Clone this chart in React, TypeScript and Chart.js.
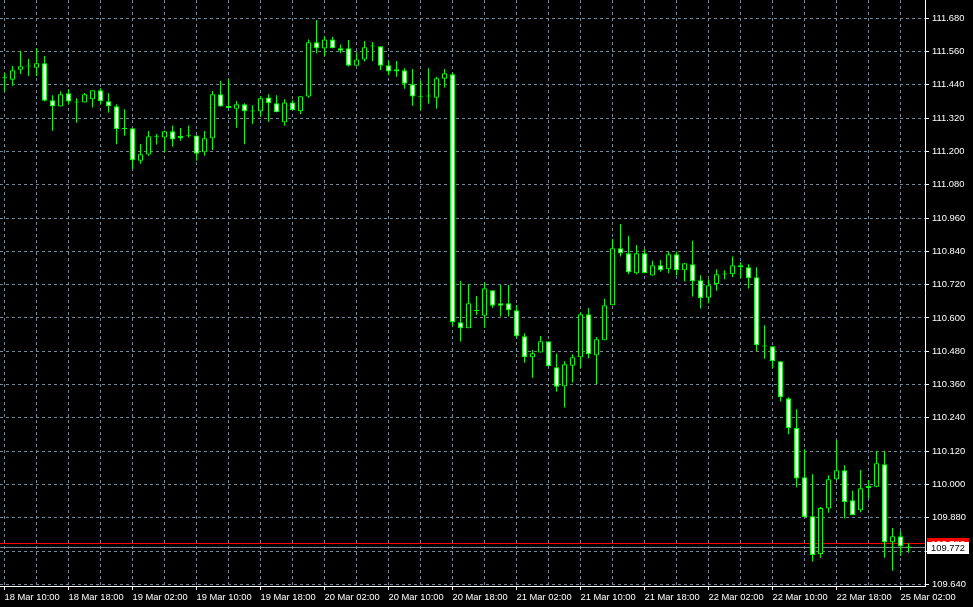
import React, { useEffect, useRef } from 'react';
import { Chart, registerables } from 'chart.js';

Chart.register(...registerables);

// Hourly candles, 18 Mar 10:00 ... 25 Mar 03:00 (weekend gap after 22 Mar 23:00)
const TIME_LABELS = [
  '18 Mar 10:00', '18 Mar 18:00', '19 Mar 02:00', '19 Mar 10:00', '19 Mar 18:00',
  '20 Mar 02:00', '20 Mar 10:00', '20 Mar 18:00', '21 Mar 02:00', '21 Mar 10:00',
  '21 Mar 18:00', '22 Mar 02:00', '22 Mar 10:00', '22 Mar 18:00', '25 Mar 02:00',
];

const OPEN = [
  111.464, 111.459, 111.495, 111.507, 111.502, 111.518, 111.385, 111.362, 111.410, 111.377,
  111.377, 111.388, 111.421, 111.381, 111.363, 111.281, 111.284, 111.167, 111.189, 111.253,
  111.250, 111.273, 111.256, 111.256, 111.258, 111.197, 111.248, 111.406, 111.365, 111.354,
  111.370, 111.345, 111.345, 111.395, 111.374, 111.305, 111.377, 111.345, 111.398, 111.594,
  111.571, 111.604, 111.572, 111.572, 111.509, 111.532, 111.578, 111.579, 111.511, 111.496,
  111.493, 111.442, 111.398, 111.398, 111.394, 111.462, 111.478, 110.585, 110.563, 110.625,
  110.608, 110.700, 110.653, 110.653, 110.628, 110.534, 110.458, 110.476, 110.516, 110.422,
  110.354, 110.428, 110.458, 110.613, 110.466, 110.520, 110.646, 110.851, 110.833, 110.761,
  110.833, 110.753, 110.790, 110.776, 110.830, 110.772, 110.794, 110.736, 110.673, 110.722,
  110.758, 110.758, 110.790, 110.783, 110.747, 110.498, 110.498, 110.444, 110.311, 110.203,
  110.026, 109.885, 109.749, 109.913, 110.019, 110.051, 109.943, 109.907, 109.994, 109.992,
  110.073, 109.792, 109.813, 109.776,
];
const HIGH = [
  111.484, 111.508, 111.562, 111.533, 111.572, 111.544, 111.403, 111.417, 111.424, 111.392,
  111.411, 111.421, 111.428, 111.410, 111.370, 111.352, 111.284, 111.227, 111.274, 111.263,
  111.276, 111.294, 111.285, 111.294, 111.258, 111.274, 111.418, 111.454, 111.461, 111.382,
  111.374, 111.367, 111.400, 111.406, 111.403, 111.388, 111.385, 111.399, 111.604, 111.674,
  111.615, 111.613, 111.586, 111.602, 111.558, 111.598, 111.595, 111.579, 111.527, 111.526,
  111.500, 111.497, 111.454, 111.500, 111.469, 111.497, 111.484, 110.733, 110.722, 110.679,
  110.730, 110.700, 110.719, 110.719, 110.647, 110.545, 110.485, 110.535, 110.516, 110.471,
  110.444, 110.469, 110.621, 110.636, 110.531, 110.669, 110.885, 110.939, 110.896, 110.863,
  110.848, 110.806, 110.809, 110.840, 110.840, 110.797, 110.878, 110.754, 110.740, 110.776,
  110.772, 110.822, 110.801, 110.794, 110.783, 110.574, 110.498, 110.444, 110.314, 110.271,
  110.127, 110.037, 109.919, 110.033, 110.159, 110.069, 109.977, 110.052, 110.016, 110.121,
  110.121, 109.843, 109.831, 109.788,
];
const LOW = [
  111.416, 111.437, 111.479, 111.472, 111.472, 111.380, 111.275, 111.362, 111.369, 111.304,
  111.377, 111.359, 111.371, 111.340, 111.226, 111.257, 111.137, 111.156, 111.185, 111.225,
  111.197, 111.217, 111.239, 111.250, 111.167, 111.185, 111.205, 111.362, 111.356, 111.286,
  111.226, 111.300, 111.327, 111.307, 111.341, 111.293, 111.349, 111.335, 111.394, 111.554,
  111.543, 111.572, 111.554, 111.506, 111.509, 111.524, 111.526, 111.494, 111.475, 111.469,
  111.426, 111.365, 111.349, 111.372, 111.354, 111.431, 110.571, 110.515, 110.563, 110.611,
  110.565, 110.637, 110.605, 110.605, 110.527, 110.439, 110.385, 110.476, 110.426, 110.334,
  110.277, 110.367, 110.419, 110.455, 110.361, 110.520, 110.646, 110.822, 110.758, 110.758,
  110.761, 110.753, 110.767, 110.761, 110.753, 110.731, 110.677, 110.634, 110.653, 110.698,
  110.740, 110.747, 110.743, 110.706, 110.480, 110.453, 110.419, 110.299, 110.181, 109.990,
  109.882, 109.722, 109.736, 109.898, 110.014, 109.877, 109.889, 109.900, 109.950, 109.990,
  109.736, 109.689, 109.743, 109.754,
];
const CLOSE = [
  111.465, 111.493, 111.507, 111.506, 111.518, 111.383, 111.363, 111.406, 111.380, 111.378,
  111.406, 111.421, 111.381, 111.363, 111.280, 111.281, 111.168, 111.190, 111.255, 111.253,
  111.273, 111.243, 111.248, 111.255, 111.192, 111.248, 111.406, 111.362, 111.356, 111.370,
  111.345, 111.344, 111.392, 111.374, 111.341, 111.377, 111.349, 111.399, 111.594, 111.572,
  111.604, 111.572, 111.563, 111.509, 111.532, 111.576, 111.578, 111.509, 111.488, 111.488,
  111.444, 111.398, 111.397, 111.398, 111.464, 111.482, 110.585, 110.563, 110.653, 110.625,
  110.707, 110.644, 110.644, 110.628, 110.534, 110.458, 110.473, 110.516, 110.426, 110.352,
  110.433, 110.458, 110.613, 110.469, 110.523, 110.646, 110.851, 110.833, 110.765, 110.833,
  110.761, 110.790, 110.772, 110.830, 110.772, 110.797, 110.732, 110.671, 110.718, 110.758,
  110.757, 110.790, 110.783, 110.743, 110.502, 110.497, 110.444, 110.314, 110.203, 110.021,
  109.882, 109.746, 109.915, 110.019, 110.051, 109.937, 109.889, 109.986, 109.986, 110.076,
  109.792, 109.813, 109.776, 109.772,
];

const PRICE_TICKS = [
  109.64, 109.76, 109.88, 110.0, 110.12, 110.24, 110.36, 110.48, 110.6,
  110.72, 110.84, 110.96, 111.08, 111.2, 111.32, 111.44, 111.56, 111.68,
];
const BID = 109.772;
const ASK = 109.786;

const CANDLE = '#00ff00';
const BULL_BODY = '#000000';
const BEAR_BODY = '#ffffff';
const GRID = '#778899';
const AXIS = '#ffffff';
const FONT_FAMILY = '"Liberation Sans", Arial, sans-serif';
const FONT_SIZE = 9.4;

const priceLines = {
  id: 'priceLines',
  beforeDatasetsDraw(chart: any) {
    const { ctx, chartArea, scales } = chart;
    const y = scales.y;
    const line = (v: number, color: string) => {
      const py = Math.round(y.getPixelForValue(v) - 0.5) + 0.5;
      ctx.save();
      ctx.strokeStyle = color;
      ctx.lineWidth = 1;
      ctx.beginPath();
      ctx.moveTo(chartArea.left, py);
      ctx.lineTo(chartArea.right, py);
      ctx.stroke();
      ctx.restore();
    };
    line(ASK, '#ff0000');
    line(BID, GRID);
  },
  afterDraw(chart: any) {
    const { ctx, chartArea, scales } = chart;
    const y = scales.y;
    const box = (v: number, bg: string, fg: string) => {
      const py = Math.round(y.getPixelForValue(v));
      ctx.save();
      ctx.fillStyle = bg;
      ctx.fillRect(chartArea.right + 2, py - 6, 42, 12);
      ctx.fillStyle = fg;
      ctx.font = `${FONT_SIZE}px ${FONT_FAMILY}`;
      ctx.textBaseline = 'middle';
      ctx.textAlign = 'left';
      ctx.fillText(v.toFixed(3), chartArea.right + 6, py);
      ctx.restore();
    };
    box(ASK, '#ff0000', '#ffffff');
    box(BID, '#ffffff', '#000000');
  },
};

export default function App() {
  const ref = useRef<HTMLCanvasElement>(null);

  useEffect(() => {
    document.body.style.margin = '0';
    document.body.style.background = '#000';
    const idx = OPEN.map((_, i) => i);
    const chart = new Chart(ref.current as HTMLCanvasElement, {
      type: 'bar',
      data: {
        datasets: [
          {
            label: 'body',
            data: idx.map((i) => ({ x: i, y: [OPEN[i], CLOSE[i]] })) as any,
            backgroundColor: idx.map((i) => (CLOSE[i] < OPEN[i] ? BEAR_BODY : BULL_BODY)),
            borderColor: CANDLE,
            borderWidth: 1,
            borderSkipped: false,
            barThickness: 5,
            minBarLength: 1,
            grouped: false,
            inflateAmount: 0,
            order: 0,
          } as any,
          {
            label: 'wick',
            data: idx.map((i) => ({ x: i, y: [LOW[i], HIGH[i]] })) as any,
            backgroundColor: CANDLE,
            borderWidth: 0,
            barThickness: 1,
            grouped: false,
            inflateAmount: 0,
            order: 1,
          } as any,
        ],
      },
      options: {
        responsive: false,
        devicePixelRatio: 1,
        animation: false,
        events: [],
        layout: { padding: 0 },
        plugins: { legend: { display: false }, tooltip: { enabled: false } },
        scales: {
          x: {
            type: 'linear',
            min: -0.5625,
            max: 115.0625,
            offset: false,
            afterBuildTicks: (scale: any) => {
              const t = [];
              for (let v = 0; v <= 112; v += 4) t.push({ value: v });
              scale.ticks = t;
            },
            afterFit: (scale: any) => {
              scale.height = 21;
              scale.paddingLeft = 0;
              scale.paddingRight = 0;
            },
            ticks: {
              autoSkip: false,
              maxRotation: 0,
              minRotation: 0,
              align: 'start',
              padding: 1.5,
              color: AXIS,
              font: { family: FONT_FAMILY, size: FONT_SIZE },
              callback: (v: any) => (v % 8 === 0 ? TIME_LABELS[v / 8] : ''),
            },
            grid: {
              offset: false,
              color: GRID,
              lineWidth: 1,
              drawTicks: true,
              tickLength: 4,
              tickColor: (c: any) => (c.tick && c.tick.value % 8 === 0 ? AXIS : 'rgba(0,0,0,0)'),
            },
            border: { display: true, color: AXIS, width: 1, dash: [3, 3] },
          } as any,
          y: {
            type: 'linear',
            position: 'right',
            min: 109.634,
            max: 111.746,
            afterBuildTicks: (scale: any) => {
              scale.ticks = PRICE_TICKS.map((v) => ({ value: v }));
            },
            afterFit: (scale: any) => {
              scale.width = 48;
              scale.paddingTop = 0;
              scale.paddingBottom = 0;
            },
            ticks: {
              padding: 3,
              color: AXIS,
              font: { family: FONT_FAMILY, size: FONT_SIZE },
              callback: (v: any) => (Math.abs(v - BID) < 0.03 ? '' : Number(v).toFixed(3)),
            },
            grid: {
              color: GRID,
              lineWidth: 1,
              drawTicks: true,
              tickLength: 4,
              tickColor: AXIS,
            },
            border: { display: true, color: AXIS, width: 1, dash: [3, 3] },
          } as any,
        },
      },
      plugins: [priceLines],
    });
    return () => chart.destroy();
  }, []);

  return (
    <div style={{ position: 'absolute', left: 0, top: 0, width: 973, height: 607, background: '#000' }}>
      <canvas ref={ref} width={973} height={607} style={{ display: 'block', width: 973, height: 607 }} />
    </div>
  );
}
